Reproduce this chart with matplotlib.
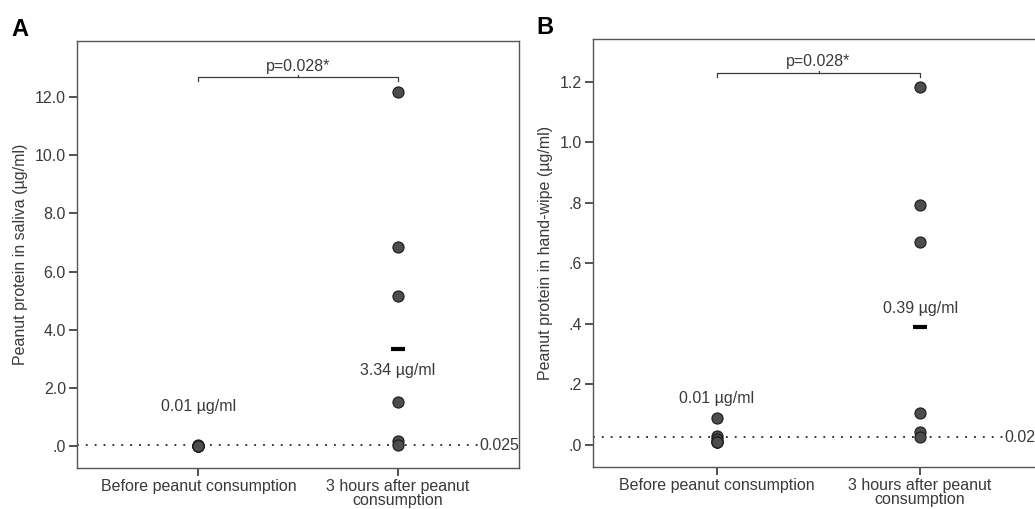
import numpy as np
import matplotlib
matplotlib.use("Agg")
import matplotlib.pyplot as plt

plt.rcParams['font.family'] = ['Liberation Sans', 'DejaVu Sans']

# data
groups = ["Before peanut consumption", "3 hours after peanut\nconsumption"]
saliva_before = [0.01, 0.01, 0.0, 0.02, 0.01, 0.01]
saliva_after = [12.16, 6.84, 5.17, 1.51, 0.17, 0.03]
wipe_before = [0.088, 0.03, 0.02, 0.01, 0.01, 0.008]
wipe_after = [1.184, 0.793, 0.670, 0.107, 0.042, 0.027]
saliva_median_labels = ["0.01 µg/ml", "3.34 µg/ml"]
wipe_median_labels = ["0.01 µg/ml", "0.39 µg/ml"]
detection_limit = 0.025
p_text = "p=0.028*"

TXT = "#3a3a3a"
EDGE = "#555555"
FS = 11.5


def draw_panel(ax, before, after, ylim, yticks, yfmt, ylabel, med_labels,
               med_label_y, bracket_y, tick_drop, letter, letter_x):
    ax.set_xlim(-0.61, 1.61)
    ax.set_ylim(*ylim)
    for spine in ax.spines.values():
        spine.set_color(EDGE)
        spine.set_linewidth(1.0)

    # detection limit line
    ax.axhline(detection_limit, color="black", linestyle=(0, (1.2, 4.6)), lw=1.1, zorder=1)
    ax.text(1.0, detection_limit, "0.025", transform=ax.get_yaxis_transform(),
            ha="right", va="center", fontsize=FS, color=TXT,
            bbox=dict(facecolor="white", edgecolor="none", pad=0.5), zorder=2)

    for i, vals in enumerate([before, after]):
        ax.plot(np.full(len(vals), i), vals, "o", ms=8, mfc="#4d4d4d",
                mec="#1a1a1a", mew=0.8, zorder=3)
        med = np.median(vals)
        if i == 1:
            ax.plot([i], [med], marker="_", ms=10, mew=3, color="black", zorder=4)
        ax.text(i, med_label_y[i], med_labels[i], ha="center", va="center",
                fontsize=FS, color=TXT)

    # significance bracket
    ax.plot([0, 0, 1, 1], [bracket_y - tick_drop, bracket_y, bracket_y, bracket_y - tick_drop],
            color=TXT, lw=0.9, clip_on=False)
    ax.plot([0.5, 0.5], [bracket_y, bracket_y + tick_drop * 0.6], color=TXT, lw=0.9)
    ax.text(0.5, bracket_y + tick_drop * 2.8, p_text, ha="center", va="center",
            fontsize=FS, color=TXT)

    ax.set_xticks([0, 1])
    ax.set_xticklabels(groups, fontsize=FS, color=TXT, linespacing=0.9)
    ax.set_yticks(yticks)
    ax.set_yticklabels([yfmt(v) for v in yticks], fontsize=FS, color=TXT)
    ax.tick_params(axis="both", direction="out", length=6, width=1.2, color="#333333", pad=2)
    ax.set_ylabel(ylabel, fontsize=FS, color=TXT, labelpad=5)
    ax.text(letter_x, 1.012, letter, transform=ax.transAxes, fontsize=17,
            fontweight="bold", color="black", ha="center", va="baseline")


def fmt_saliva(v):
    return ".0" if v == 0 else f"{v:.1f}"


def fmt_wipe(v):
    s = f"{v:.1f}"
    return s[1:] if s.startswith("0") else s


fig = plt.figure(figsize=(10.35, 5.09), dpi=100)
axA = fig.add_axes([77 / 1035, 41 / 509, 442 / 1035, 427 / 509])
axB = fig.add_axes([593 / 1035, 42 / 509, 451 / 1035, 428 / 509])

draw_panel(axA, saliva_before, saliva_after, (-0.76, 13.93),
           [0, 2, 4, 6, 8, 10, 12], fmt_saliva,
           "Peanut protein in saliva (µg/ml)", saliva_median_labels,
           [1.34, 2.58], 12.69, 0.13, "A", -0.129)
draw_panel(axB, wipe_before, wipe_after, (-0.073, 1.342),
           [0, 0.2, 0.4, 0.6, 0.8, 1.0, 1.2], fmt_wipe,
           "Peanut protein in hand-wipe (µg/ml)", wipe_median_labels,
           [0.155, 0.45], 1.23, 0.013, "B", -0.106)

fig.savefig("out.png", dpi=100)
